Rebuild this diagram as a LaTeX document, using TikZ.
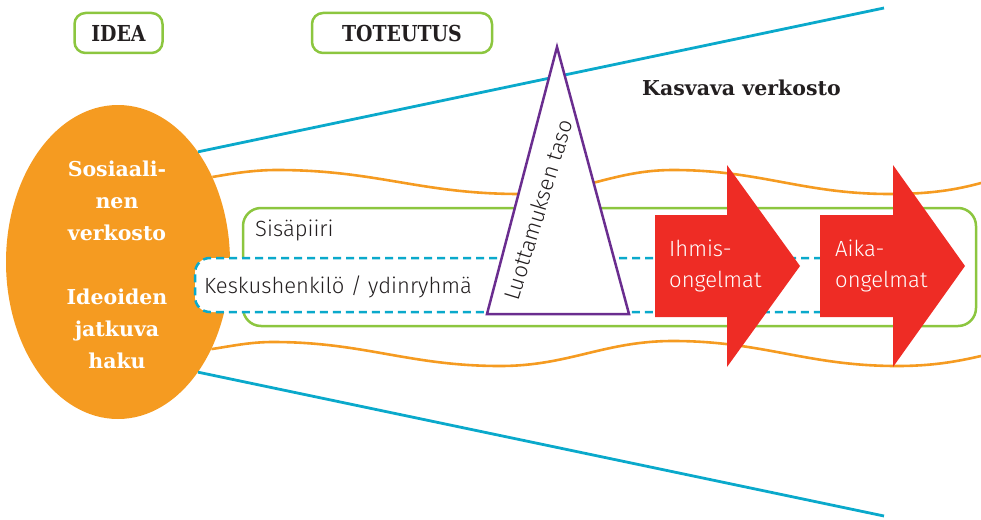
\documentclass[tikz,border=0pt]{standalone}
\usepackage{fontspec}
\setmainfont{Fira Sans Light}
\newfontfamily\slabfont{DejaVu Serif}[FakeStretch=0.86]
\newfontfamily\slabwide{DejaVu Serif}
\usetikzlibrary{shapes.geometric}

\definecolor{leafgreen}{HTML}{8CC63F}
\definecolor{netorange}{HTML}{F59B21}
\definecolor{netcyan}{HTML}{0AA9CB}
\definecolor{trustpurple}{HTML}{6A2D8F}
\definecolor{issuered}{HTML}{EE2C25}
\definecolor{ink}{HTML}{231F20}

\tikzset{
  phasetag/.style={draw=leafgreen, line width=2.5pt, rounded corners=11pt,
    minimum height=40pt, inner sep=0pt, text=ink,
    font=\slabfont\bfseries\fontsize{22}{22}\selectfont},
  boundary/.style={netcyan, line width=2.8pt},
  wave/.style={netorange, line width=2.6pt},
  bodytext/.style={inner sep=0pt, text=ink, font=\fontsize{22}{26}\selectfont},
  issue/.style={fill=issuered, draw=none},
  issuetext/.style={inner sep=0pt, text=white, align=left,
    font=\fontsize{22}{31}\selectfont}
}

\begin{document}
\begin{tikzpicture}[x=1pt, y=-1pt]
\useasboundingbox (0,0) rectangle (981,519);

% phase labels
\node[phasetag, minimum width=88pt] (idea) at (118.5,33) {IDEA};
\node[phasetag, minimum width=180pt] (toteutus) at (402,33) {TOTEUTUS};

% social network ellipse
\node[ellipse, fill=netorange, minimum width=224pt, minimum height=314pt,
      inner sep=0pt] (social) at (118,262) {};

% widening network boundaries
\coordinate (netTopEnd) at (884,8);
\coordinate (netBotEnd) at (884,516);
\draw[boundary] (social.54) -- (netTopEnd);
\draw[boundary] (social.-54) -- (netBotEnd);

% wavy network flow
\draw[wave] (social.42) .. controls (235,173) and (255,170) .. (277,170)
  .. controls (377,170) and (420,194) .. (520,194)
  .. controls (580,194) and (613,170) .. (673,170)
  .. controls (760,170) and (803,194) .. (890,194)
  .. controls (930,194) and (955,190) .. (981,183);
\draw[wave] (social.-43.5) .. controls (232,346) and (250,342) .. (273,342)
  .. controls (364,342) and (409,366) .. (500,366)
  .. controls (569,366) and (604,341) .. (673,341)
  .. controls (763,341) and (807,366) .. (897,366)
  .. controls (931,366) and (955,362) .. (981,356);

% inner circle
\node[draw=leafgreen, line width=2.5pt, rounded corners=18pt,
      minimum width=733pt, minimum height=118pt, inner sep=0pt] (inner) at (609.5,267) {};
\node[bodytext, anchor=base west] (innerlabel) at (255,236) {Sisäpiiri};

% core group
\node[draw=netcyan, fill=white, line width=2.5pt, dash pattern=on 8pt off 5pt,
      rounded corners=15pt, minimum width=655pt, minimum height=54pt,
      inner sep=0pt] (core) at (522.5,285) {};
\node[bodytext, anchor=base west] (corelabel) at (204,293) {Keskushenkilö / ydinryhmä};

% level of trust
\coordinate (trustTop) at (557,47);
\coordinate (trustLeft) at (487,314);
\coordinate (trustRight) at (629,314);
\draw[trustpurple, fill=white, line width=2.5pt] (trustTop) -- (trustLeft) -- (trustRight) -- cycle;
\node[bodytext, rotate=73] (trustlabel) at (538,210) {Luottamuksen taso};

% growing network title
\node[inner sep=0pt, anchor=base west, text=ink,
      font=\slabwide\bfseries\fontsize{20.5}{20.5}\selectfont] (growing) at (642,95) {Kasvava verkosto};

% problem arrows
\fill[issue] (655,215) -- (727,215) -- (727,165) -- (800,266) -- (727,367) -- (727,317) -- (655,317) -- cycle;
\fill[issue] (820,215) -- (893,215) -- (893,165) -- (965,266) -- (893,367) -- (893,317) -- (820,317) -- cycle;
\node[issuetext, anchor=base west] (people) at (669,287) {Ihmis-\\ongelmat};
\node[issuetext, anchor=base west] (time) at (835,287) {Aika-\\ongelmat};

% ellipse text
\node[inner sep=0pt, text=white, align=center,
      font=\slabwide\bfseries\fontsize{20.5}{32}\selectfont] (socialtext) at (117,265)
  {Sosiaali-\\nen\\verkosto\\[32pt]Ideoiden\\jatkuva\\haku};
\end{tikzpicture}
\end{document}
